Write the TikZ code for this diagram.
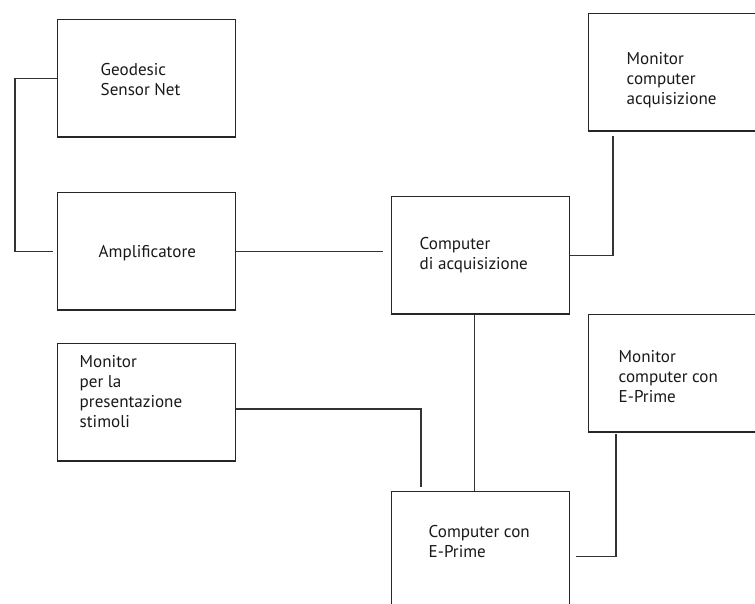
\documentclass[tikz,border=0pt]{standalone}
\usepackage{fontspec}
\setmainfont{PT Sans}
\usetikzlibrary{positioning}
\usetikzlibrary{calc}

\begin{document}
\begin{tikzpicture}[x=0.75pt,y=-0.75pt,line width=1.1pt,
			font=\fontsize{12.8}{15}\selectfont]
			\tikzstyle{box}=[draw=black!85,rectangle,minimum width=133.5pt,
			minimum height=88pt,inner sep=0pt,anchor=north west]
			\tikzstyle{txt}=[anchor=west,align=left,inner sep=0pt,text=black!90]
			\tikzstyle{wire}=[draw=black!80]
			
			\useasboundingbox (0,0) rectangle (755,603);
			\clip (0,0) rectangle (755,603);
			
			\node[box]   (geo)      at (57,19)   {};
			\node[box]   (amp)      at (57,192)  {};
			\node[box]   (stim)     at (57,343)  {};
			\node[box]   (acq)      at (391,196) {};
			\node[box]   (prime)    at (391,491) {};
			\node[box]   (monacq)   at (588,13)  {};
			\node[box]   (monprime) at (588,314) {};
			
			\node[txt]   (geoT)      at ($(geo.north west)+(43,61)$)      {Geodesic\\Sensor Net};
			\node[txt]   (ampT)      at ($(amp.north west)+(41,61)$)      {Amplificatore};
			\node[txt]   (stimT)     at ($(stim.north west)+(22,49)$)     {Monitor\\per la\\presentazione\\stimoli};
			\node[txt]   (acqT)      at ($(acq.north west)+(28,59)$)      {Computer\\di acquisizione};
			\node[txt]   (primeT)    at ($(prime.north west)+(37,51)$)    {Computer con\\E-Prime};
			\node[txt]   (monacqT)   at ($(monacq.north west)+(38,67)$)   {Monitor\\computer\\acquisizione};
			\node[txt]   (monprimeT) at ($(monprime.north west)+(30,63)$) {Monitor\\computer con\\E-Prime};
			
			\draw[wire] (geo.west) -- ++(-42,0) |- ([xshift=-3pt]amp.west);
			\draw[wire] (amp.east) -- ([xshift=-6pt]acq.west |- amp.east);
			\draw[wire] (acq.east) -| ([xshift=18.75pt,yshift=-3pt]monacq.south west);
			\draw[wire] ([xshift=-4.5pt]acq.south) -- ([xshift=-4.5pt]acq.south |- prime.north);
			\draw[wire] ([yshift=-5pt]stim.east) -| ([xshift=22.5pt,yshift=3pt]prime.north west);
			\draw[wire] ([xshift=4.5pt,yshift=-4.5pt]prime.east) -| ([xshift=21pt,yshift=-1pt]monprime.south west);
			
\end{tikzpicture}
\end{document}
